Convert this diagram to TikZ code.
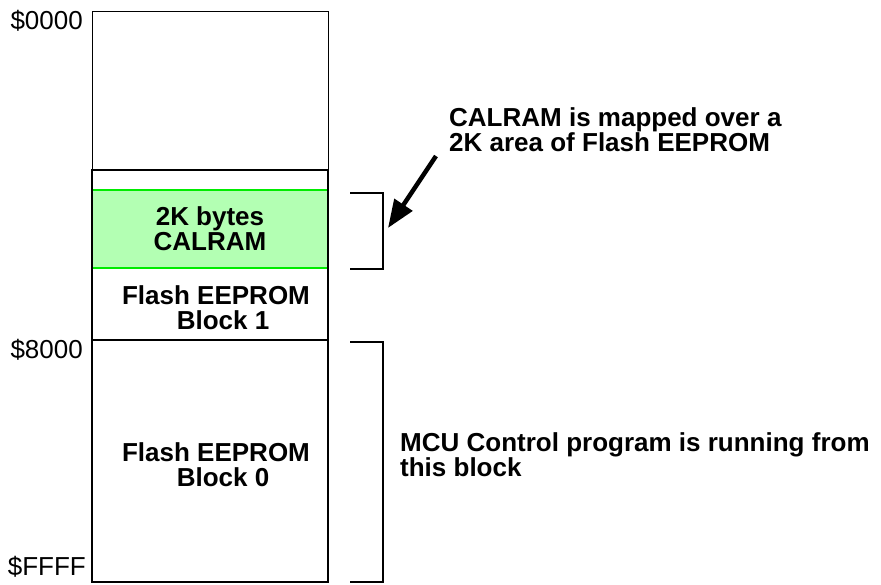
\documentclass[tikz,border=0pt]{standalone}
\usepackage{fontspec}
\setmainfont{Liberation Sans}
\usepackage{tikz}
\usetikzlibrary{positioning, arrows.meta}
\definecolor{calfill}{RGB}{179,255,179}
\definecolor{calline}{RGB}{0,235,0}

\begin{document}
\begin{tikzpicture}[
  x=1pt, y=-1pt,
  font=\fontsize{26}{25}\selectfont\bfseries,
  mem/.style={draw, line width=2.2pt, minimum width=236pt, inner sep=0pt, outer sep=0pt},
  calbox/.style={fill=calfill, minimum width=234pt, inner sep=0pt, align=center},
  lbl/.style={align=center, inner sep=0pt},
  addr/.style={anchor=east, inner sep=0pt, font=\fontsize{26}{25}\selectfont},
  note/.style={anchor=west, align=left, inner sep=0pt},
  brk/.style={line width=2pt},
  arr/.style={-{Triangle[length=28pt,width=21pt]}, line width=4.5pt}
]
\useasboundingbox (0,0) rectangle (881,584);

% memory map
\node[mem, line width=0.8pt, minimum height=159pt] (free) at (210,90.5) {};
\node[calbox, minimum height=78pt] (cal) at (210,229) {2K bytes\\CALRAM};
\draw[calline, line width=2pt] (cal.north west) -- (cal.north east)
  (cal.south west) -- (cal.south east);
\node[mem, minimum height=170pt] (blk1) at (210,255) {};
\node[lbl] (b1txt) at (216,308) {Flash EEPROM\\\hspace*{14pt}Block 1};
\node[mem, minimum height=242pt] (blk0) at (210,461) {};
\node[lbl] (b0txt) at (216,465) {Flash EEPROM\\\hspace*{14pt}Block 0};

% addresses
\node[addr] (a0000) at (83,21) {\$0000};
\node[addr] (a8000) at (83,350) {\$8000};
\node[addr] (affff) at (86,567) {\$FFFF};

% brackets
\draw[brk] (350,193) -- (383,193) -- (383,269) -- (350,269);
\draw[brk] (350,342) -- (383,342) -- (383,582) -- (350,582);

% notes
\node[note] (calnote) at (449,130) {CALRAM is mapped over a\\2K area of Flash EEPROM};
\node[note] (mcunote) at (400,455) {MCU Control program is running from\\this block};

\coordinate (tail) at (436,156);
\coordinate (tip) at (388,228);
\draw[arr] (tail) -- (tip);
\end{tikzpicture}
\end{document}
